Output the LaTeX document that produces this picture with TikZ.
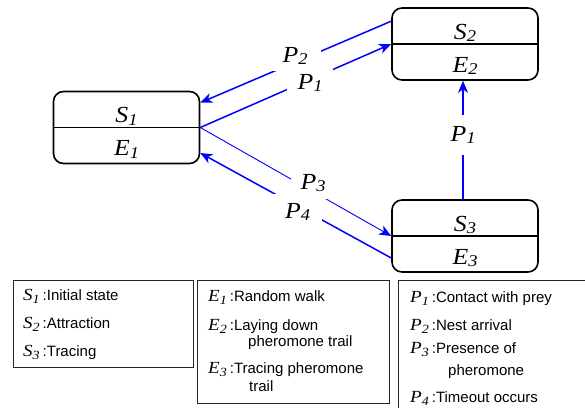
\documentclass[tikz,border=0pt]{standalone}
\usepackage{fontspec}
\setmainfont{Liberation Serif}
\newfontfamily\dserif{Liberation Serif}[FakeStretch=1.12]
\newfontfamily\arialf{Liberation Sans}
\usetikzlibrary{arrows.meta,calc}
\newcommand\dlab[2]{{\dserif\fontsize{23}{23}\selectfont\textit{#1}\raisebox{-2.5pt}{\fontsize{16.5}{16.5}\selectfont\textit{#2}}}}
\newcommand\llab[2]{{\dserif\fontsize{17}{17}\selectfont\textit{#1}\raisebox{-3pt}{\fontsize{12.5}{12.5}\selectfont\textit{#2}}}}
\newcommand\sep{\hspace{3pt}:}
\begin{document}
\begin{tikzpicture}[x=1pt,y=-1pt,
  statebox/.style={draw, line width=1.6pt, rounded corners=10pt, minimum width=146pt, minimum height=72pt, inner sep=0pt},
  divider/.style={line width=1.6pt},
  bl/.style={draw=blue, line width=1.5pt},
  blthin/.style={draw=blue, line width=0.9pt},
  tip/.style={-{Stealth[length=12pt,width=10pt,inset=3.5pt]}},
  gaplbl/.style={fill=white, inner sep=0pt, text height=15pt, text depth=3pt},
  stxt/.style={anchor=base, inner sep=0pt},
  ltext/.style={anchor=base west, inner sep=0pt, font=\arialf\fontsize{15}{15}\selectfont},
  lbox/.style={draw=black!85, line width=0.9pt}
]
\useasboundingbox (0,0) rectangle (585,407);
\fill[white] (0,0) rectangle (585,407);

% state boxes
\node[statebox] (S1) at (126.5,127.5) {};
\node[statebox] (S2) at (465,44) {};
\node[statebox] (S3) at (465,236) {};
\draw[divider] (S1.west) -- (S1.east);
\draw[divider] (S2.west) -- (S2.east);
\draw[divider] (S3.west) -- (S3.east);
\node[stxt] (S1s) at ($(S1.center)+(0,-5)$) {\dlab{S}{1}};
\node[stxt] (S1e) at ($(S1.center)+(0,28)$) {\dlab{E}{1}};
\node[stxt] (S2s) at ($(S2.center)+(0,-5)$) {\dlab{S}{2}};
\node[stxt] (S2e) at ($(S2.center)+(0,28)$) {\dlab{E}{2}};
\node[stxt] (S3s) at ($(S3.center)+(0,-5)$) {\dlab{S}{3}};
\node[stxt] (S3e) at ($(S3.center)+(0,28)$) {\dlab{E}{3}};

% connectors
\draw[bl,tip] ($(S2.north west)+(0,14)$) -- ($(S1.north east)+(0,12)$);
\draw[bl,tip] (S1.east) -- (S2.west);
\draw[blthin,tip] (S1.east) -- (S3.west);
\draw[bl,tip] ($(S3.west)+(0,22)$) -- ($(S1.east)+(0,25.5)$);
\draw[bl,tip] ($(S3.north)+(-2,0)$) -- ($(S2.south)+(-2,0)$);

% connector labels (white boxes break the lines)
\node[gaplbl, minimum width=52pt, minimum height=30pt] (LP2) at (295,56) {\dlab{P}{2}};
\node[gaplbl, minimum width=46pt, minimum height=30pt] (LP1) at (310,83) {\dlab{P}{1}};
\node[gaplbl, minimum width=44pt, minimum height=32pt] (LP3) at (313,183) {\dlab{P}{3}};
\node[gaplbl, minimum width=49pt, minimum height=36pt] (LP4) at (297.5,212) {\dlab{P}{4}};
\node[gaplbl, minimum width=28pt, minimum height=40pt] (LP1v) at (463,135) {\dlab{P}{1}};

% legend boxes
\draw[lbox] (13,280) rectangle (193,367);
\draw[lbox] (197,280) rectangle (389,403);
\draw[lbox] (592,280) -| (398,412);

\node[ltext] (a1) at (23,300) {\llab{S}{1}\sep Initial state};
\node[ltext] (a2) at (23,328) {\llab{S}{2}\sep Attraction};
\node[ltext] (a3) at (23,356) {\llab{S}{3}\sep Tracing};

\node[ltext] (b1) at (208,301) {\llab{E}{1}\sep Random walk};
\node[ltext] (b2) at (208,330) {\llab{E}{2}\sep Laying down};
\node[ltext] (b2c) at (248,346) {pheromone trail};
\node[ltext] (b3) at (208,373) {\llab{E}{3}\sep Tracing pheromone};
\node[ltext] (b3c) at (249,391) {trail};

\node[ltext] (c1) at (410,302) {\llab{P}{1}\sep Contact with prey};
\node[ltext] (c2) at (410,330) {\llab{P}{2}\sep Nest arrival};
\node[ltext] (c3) at (410,353) {\llab{P}{3}\sep Presence of};
\node[ltext] (c3c) at (448,375) {pheromone};
\node[ltext] (c4) at (410,402) {\llab{P}{4}\sep Timeout occurs};
\end{tikzpicture}
\end{document}
